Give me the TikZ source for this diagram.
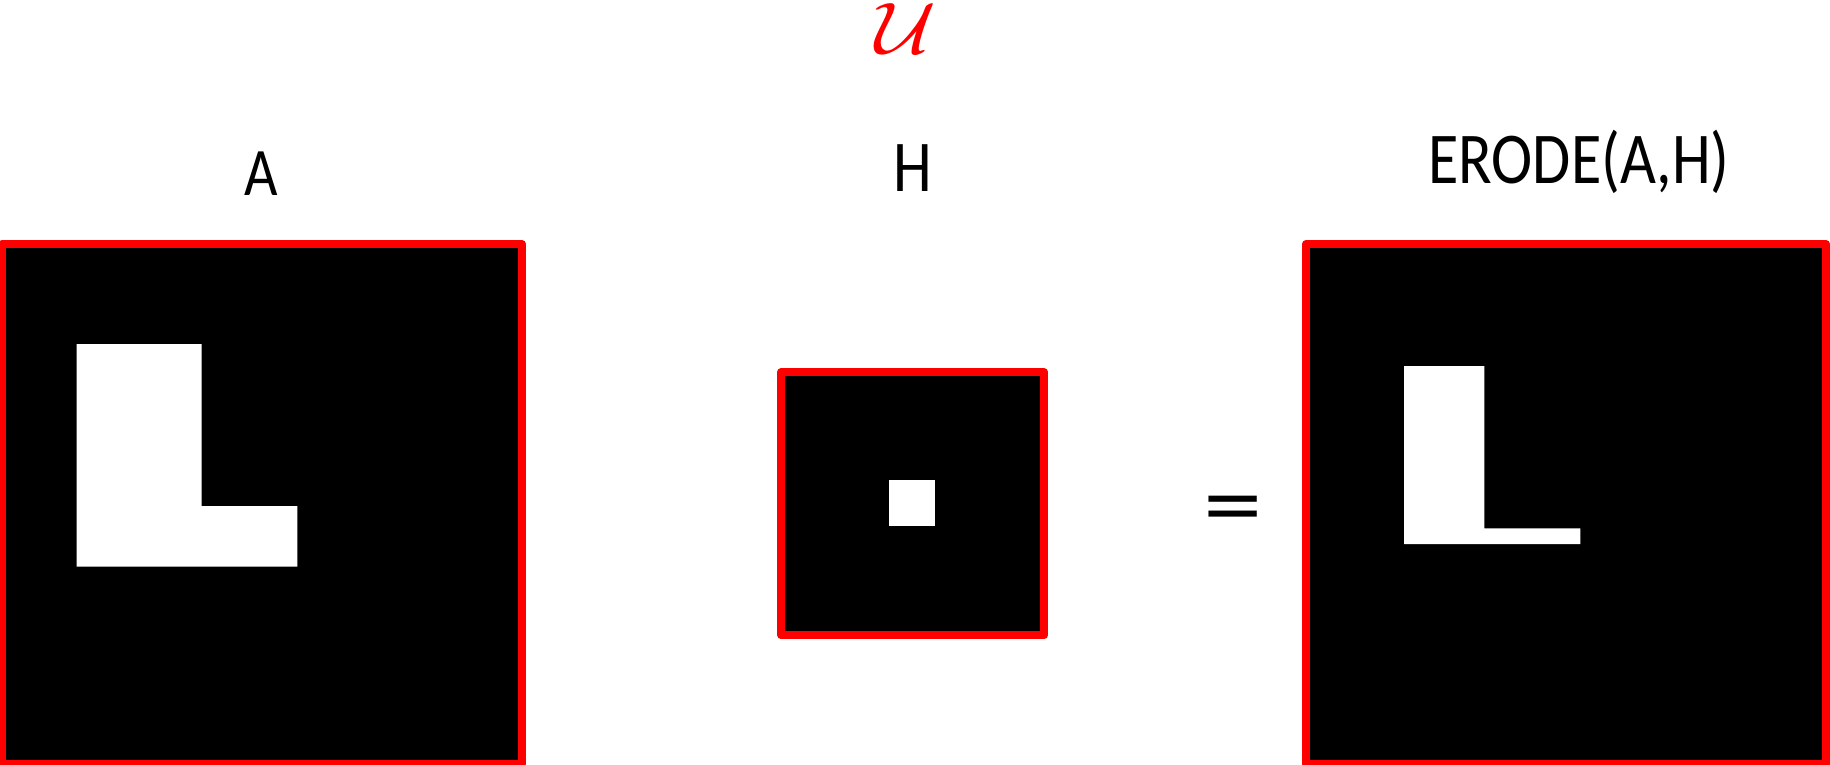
\documentclass[tikz,border=0pt]{standalone}
\usepackage{fontspec}
\usepackage{graphicx}
\usepackage{amsmath, amssymb}
\usepackage{tikz}
\newfontfamily\labelfont[FakeStretch=0.85]{Carlito}
\definecolor{framered}{HTML}{FF0000}
\tikzset{every node/.append style={inner sep=0pt, outer sep=0pt}}
\tikzset{
  imgbox/.style={draw=framered, fill=black, line width=4pt, line join=round},
  caption/.style={font=\labelfont\fontsize{36.5}{40}\selectfont, anchor=base}
}

\begin{document}
\begin{tikzpicture}[x=0.5pt,y=-0.5pt]
  \useasboundingbox (0,0) rectangle (1830,765);
  \node[framered, anchor=base] (elem) at (906,54) {\scalebox{4.2}[3.65]{$\mathcal{U}$}};
  \node[caption, font=\labelfont\fontsize{34}{38}\selectfont] (labA) at (261.7,195) {A};
  \node[caption] (labH) at (912.5,191.7) {H};
  \node[caption] (labE) at (1579,183) {ERODE(A,H)};
  \node[imgbox, minimum width=260pt, minimum height=260pt] (imgA) at (262,504) {};
  \node[imgbox, minimum width=131.6pt, minimum height=131.6pt] (imgH) at (912.8,503.8) {};
  \node[imgbox, minimum width=260pt, minimum height=260pt] (imgE) at (1566,504) {};
  \fill[white] (76.7,344) -- (201.7,344) -- (201.7,506) -- (297.3,506)
    -- (297.3,566.7) -- (76.7,566.7) -- cycle;
  \fill[white] (889,480.3) rectangle (935,526);
  \fill[white] (1404,366) -- (1484.3,366) -- (1484.3,528.3) -- (1580.3,528.3)
    -- (1580.3,544) -- (1404,544) -- cycle;
  \node[font=\labelfont] (eq) at (1233.3,516) {\scalebox{7}[4.7]{=}};
\end{tikzpicture}
\end{document}
